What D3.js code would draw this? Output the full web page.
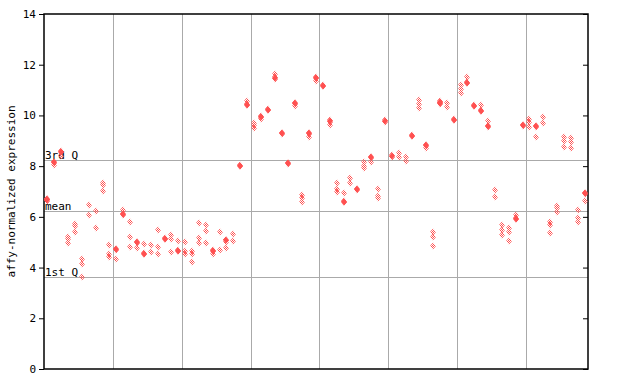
<!DOCTYPE html>
<html>
<head>
<meta charset="utf-8">
<script src="https://cdn.jsdelivr.net/npm/d3@7"></script>
<style>
  body { margin: 0; background: #fff; }
  svg text { font-family: "DejaVu Sans Mono", monospace; font-size: 11px; fill: #000; }
</style>
</head>
<body>
<svg id="chart" width="640" height="384"></svg>
<script>
// replicate values for each sample, 79 samples
const sampleValues = [
  [6.64, 6.70, 6.72], [8.04, 8.13, 8.17], [8.40, 8.55, 8.59], [4.98, 5.11, 5.20], [5.41, 5.63, 5.73],
  [3.64, 4.13, 4.33], [6.07, 6.47], [5.55, 6.22], [7.02, 7.26, 7.34], [4.40, 4.52, 4.90],
  [4.35, 4.71, 4.75], [6.08, 6.12, 6.28], [4.80, 5.22, 5.79], [4.78, 4.97, 5.01], [4.52, 4.56, 4.92],
  [4.60, 4.89], [4.54, 4.80, 5.48], [5.12, 5.16], [4.60, 5.11, 5.28], [4.65, 4.69, 5.06],
  [4.54, 4.67, 5.00], [4.21, 4.54, 4.67], [4.96, 5.15, 5.75], [4.96, 5.43, 5.67], [4.54, 4.65, 4.69],
  [4.68, 5.39], [4.76, 5.00, 5.08, 5.10], [5.06, 5.31], [8.00, 8.05], [10.40, 10.44, 10.58],
  [9.52, 9.62, 9.69], [9.85, 9.93, 9.97], [10.20, 10.26], [11.45, 11.50, 11.62], [9.26, 9.32],
  [8.09, 8.13], [10.37, 10.46, 10.50], [6.60, 6.73, 6.86], [9.16, 9.27, 9.31], [11.36, 11.47, 11.51],
  [11.15, 11.19], [9.62, 9.76, 9.80], [6.99, 7.10, 7.32], [6.58, 6.62, 6.93], [7.32, 7.52],
  [7.07, 7.11], [7.91, 8.02, 8.18], [8.18, 8.33, 8.37], [6.73, 6.82, 7.09], [9.76, 9.80],
  [8.38, 8.42], [8.35, 8.53], [8.19, 8.37], [9.18, 9.22], [10.29, 10.45, 10.60],
  [8.73, 8.81, 8.85], [4.86, 5.22, 5.39], [10.46, 10.50, 10.56], [10.32, 10.48], [9.81, 9.85],
  [10.87, 11.03, 11.20], [11.26, 11.30, 11.50], [10.36, 10.40], [10.17, 10.21, 10.40], [9.56, 9.60, 9.77],
  [6.77, 7.05], [5.28, 5.48, 5.68], [5.04, 5.41, 5.55], [5.90, 5.94, 6.07], [9.60, 9.64],
  [9.56, 9.75, 9.84], [9.14, 9.56, 9.60], [9.69, 9.92], [5.35, 5.68, 5.81], [6.18, 6.34, 6.44],
  [8.77, 9.00, 9.16], [8.70, 8.94, 9.12], [5.79, 5.94, 6.26], [6.61, 6.91, 6.95]
];

const yTicks = [0, 2, 4, 6, 8, 10, 12, 14];
const refLabels = ["3rd Q", "mean", "1st Q"];
const refValues = [8.24, 6.22, 3.62];
const groupSize = 10;
const yLabel = "affy-normalized expression";

const margin = { left: 44, right: 52, top: 14, bottom: 15 };
const width = 640, height = 384;
const red = "#ff5050";

const svg = d3.select("#chart");

// 棋盘格填充，模拟原图的点状菱形
const defs = svg.append("defs");
const pat = defs.append("pattern")
  .attr("id", "checker")
  .attr("patternUnits", "userSpaceOnUse")
  .attr("width", 2).attr("height", 2);
pat.append("rect").attr("x", 0).attr("y", 0).attr("width", 1).attr("height", 1).attr("fill", red);
pat.append("rect").attr("x", 1).attr("y", 1).attr("width", 1).attr("height", 1).attr("fill", red);

const x = d3.scaleLinear()
  .domain([0, sampleValues.length])
  .range([margin.left, width - margin.right]);

const y = d3.scaleLinear()
  .domain([0, 14])
  .range([height - margin.bottom, margin.top]);

const x0 = margin.left, x1 = width - margin.right;
const y0 = height - margin.bottom, y1 = margin.top;

// vertical group separators
const seps = d3.range(groupSize, sampleValues.length, groupSize);
svg.append("g").selectAll("line")
  .data(seps).enter().append("line")
  .attr("x1", d => Math.round(x(d)) + 0.5).attr("x2", d => Math.round(x(d)) + 0.5)
  .attr("y1", y1).attr("y2", y0)
  .attr("stroke", "#aaa").attr("stroke-width", 1);

// quartile / mean lines
svg.append("g").selectAll("line")
  .data(refValues).enter().append("line")
  .attr("x1", x0).attr("x2", x1)
  .attr("y1", d => Math.round(y(d)) + 0.5).attr("y2", d => Math.round(y(d)) + 0.5)
  .attr("stroke", "#aaa").attr("stroke-width", 1);

// left axis
const leftAxis = d3.axisLeft(y).tickValues(yTicks).tickSize(5).tickPadding(3).tickFormat(d3.format("d"));
const gl = svg.append("g").attr("transform", `translate(${x0},0)`).call(leftAxis);
gl.select(".domain").remove();
gl.selectAll("line").attr("stroke", "#000");
gl.selectAll("text").attr("font-family", null).attr("font-size", null);

// right axis ticks (inside)
const rightAxis = d3.axisLeft(y).tickValues(yTicks).tickSize(5).tickFormat("");
const gr = svg.append("g").attr("transform", `translate(${x1},0)`).call(rightAxis);
gr.select(".domain").remove();
gr.selectAll("line").attr("stroke", "#000");

// frame
svg.append("rect")
  .attr("x", x0).attr("y", y1)
  .attr("width", x1 - x0).attr("height", y0 - y1)
  .attr("fill", "none").attr("stroke", "#000").attr("stroke-width", 1.5);

// reference labels
svg.append("g").selectAll("text")
  .data(refValues).enter().append("text")
  .attr("x", x0 + 1)
  .attr("y", d => Math.round(y(d)) - 1)
  .text((d, i) => refLabels[i]);

// y label
svg.append("text")
  .attr("transform", `translate(15,${(y0 + y1) / 2}) rotate(-90)`)
  .attr("text-anchor", "middle")
  .text(yLabel);

// points
const diamond = "M0,-3.5L3,0L0,3.5L-3,0Z";
const pts = [];
const solid = [];
sampleValues.forEach((vals, i) => {
  const sorted = vals.slice().sort((a, b) => a - b);
  sorted.forEach(v => pts.push({ i, v }));
  for (let k = 1; k < sorted.length; k++) {
    if (Math.abs(y(sorted[k]) - y(sorted[k - 1])) < 1.6) {
      solid.push({ i, v: (sorted[k] + sorted[k - 1]) / 2 });
    }
  }
});

svg.append("g").selectAll("path")
  .data(pts).enter().append("path")
  .attr("d", diamond)
  .attr("transform", d => `translate(${Math.round(x(d.i + 0.5))},${Math.round(y(d.v))})`)
  .attr("fill", "url(#checker)");

svg.append("g").selectAll("path")
  .data(solid).enter().append("path")
  .attr("d", diamond)
  .attr("transform", d => `translate(${Math.round(x(d.i + 0.5))},${Math.round(y(d.v))})`)
  .attr("fill", red);
</script>
</body>
</html>
